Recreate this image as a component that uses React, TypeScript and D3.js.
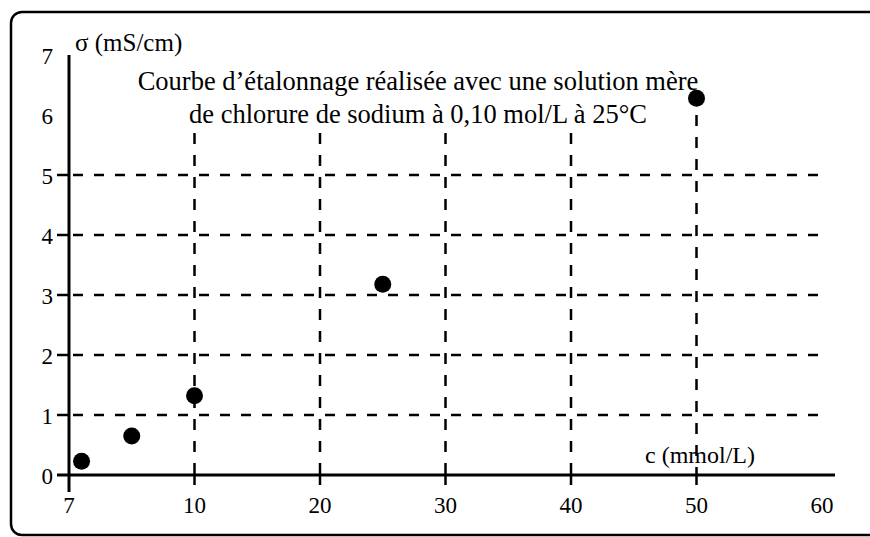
import * as d3 from 'd3';

const concentrations = [1, 5, 10, 25, 50];
const conductivities = [0.23, 0.65, 1.32, 3.18, 6.28];

const xTickValues = [0, 10, 20, 30, 40, 50, 60];
const xTickLabels = ['7', '10', '20', '30', '40', '50', '60'];
const yTickValues = [0, 1, 2, 3, 4, 5, 6, 7];
const hGridValues = [1, 2, 3, 4, 5];
const vGridValues = [10, 20, 30, 40, 50];
const vGridTops = [5.7, 5.7, 5.7, 5.7, 6.0];

const titleLines = [
  'Courbe d’étalonnage réalisée avec une solution mère',
  'de chlorure de sodium à 0,10 mol/L à 25°C',
];

const width = 870;
const height = 537;
const font = "'Liberation Serif', 'DejaVu Serif', serif";

export default function App() {
  const x = d3.scaleLinear().domain([0, 60]).range([69, 822]);
  const y = d3.scaleLinear().domain([0, 7]).range([475, 55]);

  const data = concentrations.map((c, i) => ({ c, s: conductivities[i] }));
  const txt = { fontFamily: font };

  return (
    <svg
      width={width}
      height={height}
      style={{ position: 'absolute', left: 0, top: 0, background: '#fff', fontFamily: font }}
    >
      <rect x={11} y={12} width={900} height={523} rx={11} fill="none" stroke="#000" strokeWidth={2.5} />

      {/* horizontal dashed grid */}
      {hGridValues.map(v => (
        <g key={'h' + v}>
          <line x1={57} x2={x(0)} y1={y(v)} y2={y(v)} stroke="#000" strokeWidth={2.5} />
          <line x1={x(0)} x2={x(60)} y1={y(v)} y2={y(v)} stroke="#000" strokeWidth={2.5} strokeDasharray="10,11" strokeDashoffset={-4} />
        </g>
      ))}

      {/* vertical dashed grid */}
      {vGridValues.map((v, i) => (
        <g key={'v' + v}>
          <line x1={x(v)} x2={x(v)} y1={y(vGridTops[i])} y2={y(0)} stroke="#000" strokeWidth={2.5} strokeDasharray="11,11" />
          <line x1={x(v)} x2={x(v)} y1={y(0)} y2={y(0) + 10} stroke="#000" strokeWidth={2.5} />
        </g>
      ))}

      {/* axes */}
      <line x1={57} x2={835} y1={y(0)} y2={y(0)} stroke="#000" strokeWidth={3} />
      <line x1={x(0)} x2={x(0)} y1={y(7)} y2={y(0) + 17} stroke="#000" strokeWidth={3} />

      {yTickValues.map(v => (
        <text key={'yl' + v} x={53} y={y(v) + 9} textAnchor="end" style={txt} fontSize={23} fill="#000">
          {v}
        </text>
      ))}

      {xTickValues.map((v, i) => (
        <text key={'xl' + v} x={x(v)} y={513} textAnchor="middle" style={txt} fontSize={23} fill="#000">
          {xTickLabels[i]}
        </text>
      ))}

      <text x={75} y={51} style={txt} fontSize={25} fill="#000">σ (mS/cm)</text>
      <text x={645} y={463} style={txt} fontSize={24} fill="#000">c (mmol/L)</text>

      {titleLines.map((t, i) => (
        <text key={'t' + i} x={418} y={90 + i * 33} textAnchor="middle" style={txt} fontSize={26.5} fill="#000">
          {t}
        </text>
      ))}

      {data.map((d, i) => (
        <circle key={'p' + i} cx={x(d.c)} cy={y(d.s)} r={8.5} fill="#000" />
      ))}
    </svg>
  );
}
